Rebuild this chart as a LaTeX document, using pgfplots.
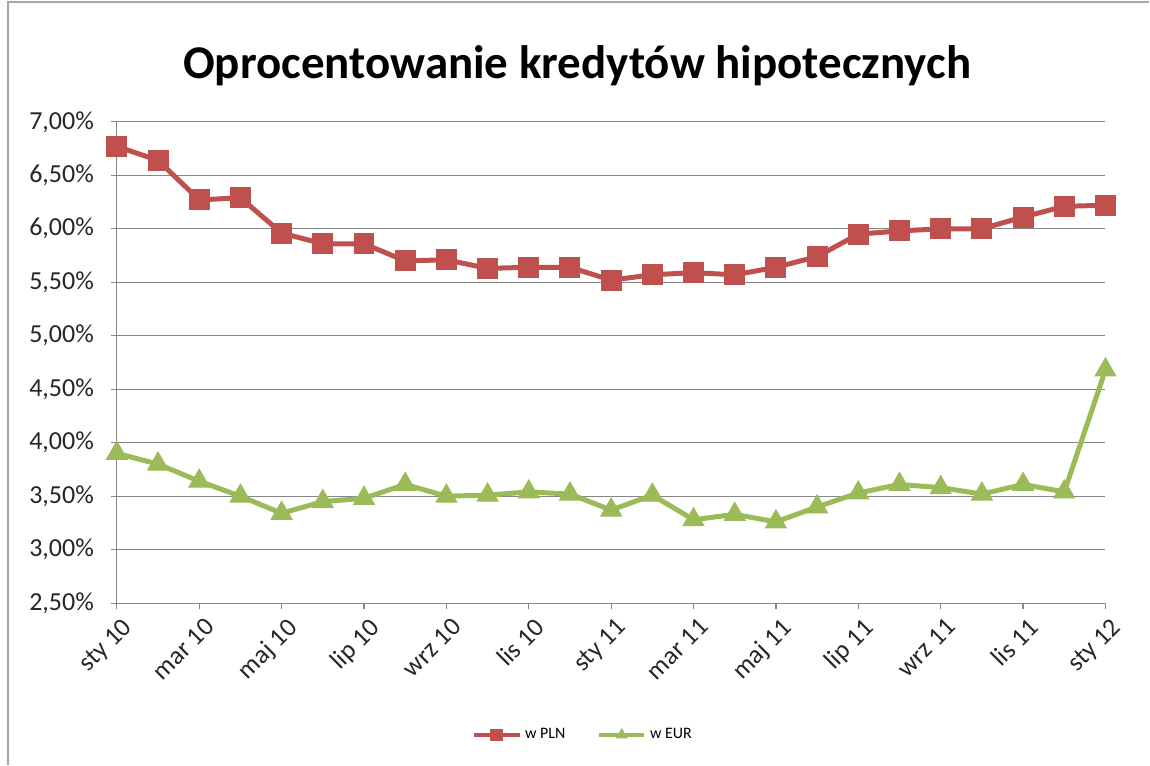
\documentclass[border=0pt]{standalone}
\usepackage{fontspec}
\setmainfont{Carlito}
\usepackage{pgfplots}
\pgfplotsset{compat=1.18}
\definecolor{plnred}{RGB}{192,80,77}
\definecolor{eurgreen}{RGB}{155,187,89}
\definecolor{gridgray}{RGB}{134,134,134}
\begin{document}
\begin{tikzpicture}
\fill[white] (-58.5pt,-80pt) rectangle (516.5pt,302pt);
\draw[gray!70, line width=0.6pt] (-54.5pt,-81pt) -- (-54.5pt,301pt) -- (517pt,301pt);
\begin{axis}[
  at={(0,0)}, anchor=south west,
  width=495pt, height=241pt, scale only axis,
  xmin=0, xmax=24, ymin=2.5, ymax=7.0,
  axis x line*=bottom, axis y line*=left,
  axis line style={gridgray, line width=0.6pt, -},
  xtick={0,2,...,24},
  xticklabels={sty 10,mar 10,maj 10,lip 10,wrz 10,lis 10,sty 11,mar 11,maj 11,lip 11,wrz 11,lis 11,sty 12},
  ytick={2.5,3,...,7},
  yticklabel={\pgfmathprintnumber[fixed,fixed zerofill,precision=2,use comma]{\tick}\%},
  /pgf/number format/assume math mode=true,
  ymajorgrids, grid style={gridgray, line width=0.6pt},
  tick style={gridgray, line width=0.6pt},
  tick align=outside, major tick length=3pt,
  tick label style={font=\fontsize{13}{15}\selectfont, text=black!85},
  x tick label style={rotate=45, anchor=north east, inner sep=0pt, xshift=-1pt, yshift=-4pt},
  y tick label style={xshift=-5pt},
  legend columns=2,
  legend style={at={(axis description cs:0.4727,-0.2739)}, anchor=center, draw=none, fill=none,
    font=\fontsize{8}{9}\selectfont, /tikz/every even column/.append style={column sep=14pt}},
  legend image code/.code={\draw[#1, line width=1.6pt, mark size=3pt, mark repeat=2, mark phase=2] plot coordinates {(0cm,0cm) (0.4cm,0cm) (0.8cm,0cm)};},
]
\addplot[plnred, line width=2.5pt, mark=square*, mark size=5pt, mark options={solid, line width=0.5pt}] coordinates {
(0,6.77) (1,6.64) (2,6.27) (3,6.29) (4,5.96) (5,5.86) (6,5.86) (7,5.70) (8,5.71)
(9,5.63) (10,5.64) (11,5.64) (12,5.52) (13,5.57) (14,5.59) (15,5.57) (16,5.64)
(17,5.74) (18,5.95) (19,5.98) (20,6.00) (21,6.00) (22,6.11) (23,6.21) (24,6.22)};
\addlegendentry{w PLN}
\addplot[eurgreen, line width=2.5pt, mark=triangle*, mark size=6pt, mark options={solid, line width=0.5pt}] coordinates {
(0,3.90) (1,3.80) (2,3.64) (3,3.50) (4,3.34) (5,3.45) (6,3.48) (7,3.61) (8,3.50)
(9,3.51) (10,3.54) (11,3.52) (12,3.37) (13,3.51) (14,3.28) (15,3.33) (16,3.26)
(17,3.40) (18,3.53) (19,3.61) (20,3.58) (21,3.52) (22,3.61) (23,3.54) (24,4.68)};
\addlegendentry{w EUR}
\end{axis}
\node[font=\bfseries\fontsize{23.5}{26}\selectfont, text=black] at (230.5pt,269pt) {Oprocentowanie kredytów hipotecznych};
\end{tikzpicture}
\end{document}
